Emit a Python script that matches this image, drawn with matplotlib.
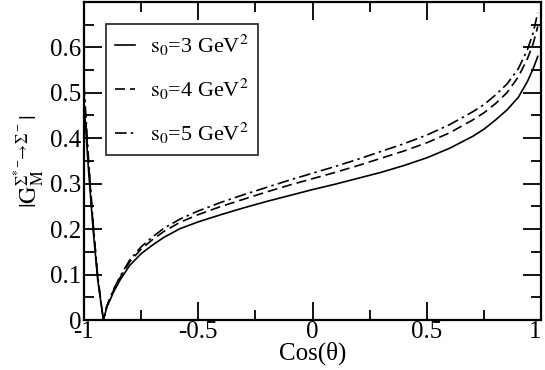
import matplotlib
matplotlib.use('Agg')
import matplotlib.pyplot as plt
from matplotlib.ticker import MultipleLocator

plt.rcParams['font.family'] = ['Liberation Serif', 'DejaVu Serif']
plt.rcParams['mathtext.fontset'] = 'stix'

# 数据
cos_theta = [-1.0, -0.98, -0.96, -0.94, -0.915, -0.90, -0.87, -0.842, -0.80, -0.75,
             -0.70, -0.65, -0.58, -0.5, -0.4, -0.3, -0.2, -0.1, 0.0, 0.1, 0.2,
             0.3, 0.4, 0.5, 0.6, 0.7, 0.75, 0.8, 0.85, 0.9, 0.94, 0.965, 0.985]
g_s3 = [0.48, 0.33, 0.20, 0.09, 0.0, 0.028, 0.062, 0.088, 0.120, 0.146,
        0.165, 0.182, 0.201, 0.216, 0.232, 0.247, 0.261, 0.274, 0.287, 0.299, 0.312,
        0.325, 0.340, 0.357, 0.378, 0.404, 0.420, 0.440, 0.462, 0.490, 0.525, 0.553, 0.580]
g_s4 = [0.50, 0.345, 0.21, 0.095, 0.0, 0.030, 0.066, 0.093, 0.128, 0.156,
        0.177, 0.195, 0.215, 0.232, 0.250, 0.266, 0.282, 0.297, 0.311, 0.325, 0.340,
        0.356, 0.372, 0.390, 0.412, 0.440, 0.456, 0.476, 0.500, 0.535, 0.575, 0.608, 0.646]
g_s5 = [0.52, 0.355, 0.215, 0.097, 0.0, 0.031, 0.068, 0.096, 0.132, 0.161,
        0.183, 0.202, 0.222, 0.240, 0.259, 0.276, 0.292, 0.308, 0.323, 0.338, 0.354,
        0.371, 0.388, 0.407, 0.430, 0.458, 0.474, 0.495, 0.519, 0.553, 0.595, 0.632, 0.676]
labels = [r'$\mathrm{s_0}$=3 GeV$^2$', r'$\mathrm{s_0}$=4 GeV$^2$', r'$\mathrm{s_0}$=5 GeV$^2$']

fig = plt.figure(figsize=(5.45, 3.70), dpi=100)
ax = fig.add_axes([0.154, 0.135, 0.839, 0.860])

ax.plot(cos_theta, g_s3, color='black', lw=1.2, ls='-', label=labels[0])
ax.plot(cos_theta, g_s4, color='black', lw=1.2, ls=(0, (6, 3)), label=labels[1])
ax.plot(cos_theta, g_s5, color='black', lw=1.2, ls=(0, (7, 2.5, 1.5, 2.5)), label=labels[2])

ax.set_xlim(-1, 1)
ax.set_ylim(0, 0.7)
ax.set_xticks([-1, -0.5, 0, 0.5, 1])
ax.set_xticklabels(['-1', '-0.5', '0', '0.5', '1'])
ax.get_xticklabels()[-1].set_horizontalalignment('right')
ax.set_yticks([0, 0.1, 0.2, 0.3, 0.4, 0.5, 0.6])
ax.set_yticklabels(['0', '0.1', '0.2', '0.3', '0.4', '0.5', '0.6'])
ax.xaxis.set_minor_locator(MultipleLocator(0.25))
ax.yaxis.set_minor_locator(MultipleLocator(0.05))
ax.tick_params(which='both', direction='in', top=True, right=True, width=1.3, labelsize=18)
ax.tick_params(axis='x', pad=1)
ax.tick_params(axis='y', pad=2)
ax.tick_params(which='major', length=13)
ax.tick_params(which='minor', length=7.5)
for s in ax.spines.values():
    s.set_linewidth(1.6)

ax.set_xlabel('Cos(θ)', fontsize=18, labelpad=-1)
ax.set_ylabel(r'$|\mathrm{G}_\mathrm{M}^{\Sigma^{*-}\!\!\rightarrow\!\Sigma^-}|$', fontsize=17, labelpad=2)

leg = ax.legend(loc='upper left', bbox_to_anchor=(0.048, 0.93), fontsize=16, frameon=True,
                fancybox=False, edgecolor='black', handlelength=0.9, handletextpad=0.7,
                borderpad=0.4, labelspacing=0.85, borderaxespad=0)
leg.get_frame().set_linewidth(1.3)

fig.savefig('out.png', dpi=100)
